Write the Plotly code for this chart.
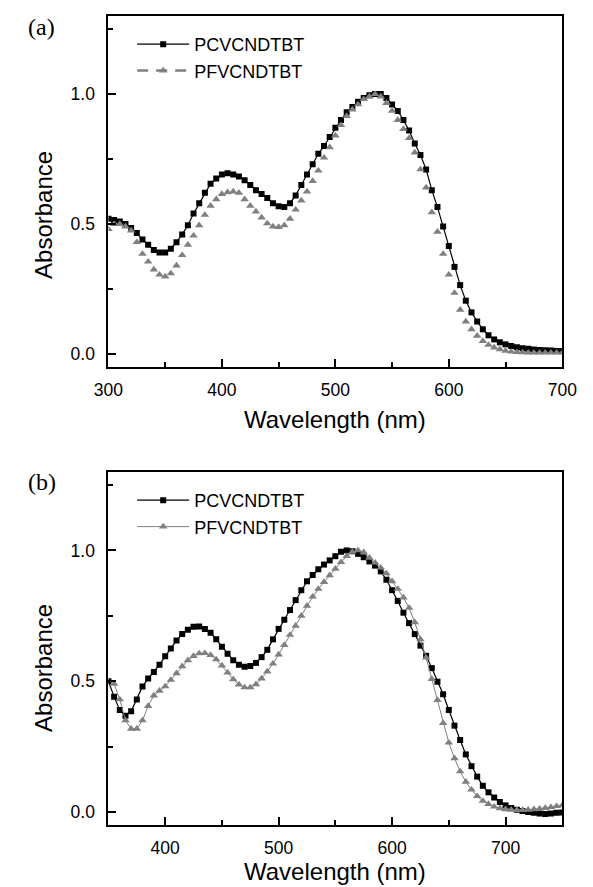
import plotly.graph_objects as go

# ---------------- Panel (a) data ----------------
wl_a = list(range(300, 705, 5))
pcv_a = [0.52, 0.515, 0.51, 0.50, 0.485, 0.465, 0.44, 0.42, 0.40, 0.39,
         0.39, 0.405, 0.43, 0.46, 0.495, 0.54, 0.58, 0.62, 0.655, 0.675,
         0.69, 0.695, 0.69, 0.683, 0.668, 0.65, 0.63, 0.615, 0.60, 0.58,
         0.568, 0.565, 0.58, 0.61, 0.65, 0.69, 0.73, 0.77, 0.80, 0.835,
         0.87, 0.90, 0.93, 0.95, 0.97, 0.985, 0.995, 1.00, 1.00, 0.985,
         0.96, 0.935, 0.90, 0.86, 0.81, 0.765, 0.71, 0.63, 0.565, 0.49,
         0.415, 0.335, 0.265, 0.205, 0.16, 0.125, 0.095, 0.072, 0.056, 0.045,
         0.037, 0.031, 0.026, 0.022, 0.02, 0.017, 0.015, 0.014, 0.013, 0.012,
         0.012]
pfv_a = [0.48, 0.50, 0.50, 0.49, 0.475, 0.43, 0.385, 0.355, 0.325, 0.305,
         0.298, 0.31, 0.34, 0.38, 0.42, 0.455, 0.495, 0.535, 0.57, 0.595,
         0.615, 0.622, 0.625, 0.62, 0.595, 0.57, 0.548, 0.525, 0.502, 0.49,
         0.488, 0.495, 0.52, 0.555, 0.59, 0.625, 0.665, 0.705, 0.755, 0.795,
         0.84, 0.88, 0.915, 0.94, 0.96, 0.98, 0.99, 1.00, 0.99, 0.965,
         0.935, 0.90, 0.865, 0.83, 0.775, 0.71, 0.64, 0.545, 0.47, 0.385,
         0.305, 0.235, 0.17, 0.125, 0.095, 0.07, 0.05, 0.035, 0.025, 0.018,
         0.012, 0.009, 0.007, 0.006, 0.005, 0.005, 0.005, 0.005, 0.005, 0.005,
         0.005]

# ---------------- Panel (b) data ----------------
wl_b_pcv = list(range(350, 755, 5))
pcv_b = [0.50, 0.44, 0.39, 0.368, 0.385, 0.43, 0.48, 0.51, 0.535, 0.563,
         0.595, 0.625, 0.656, 0.68, 0.697, 0.708, 0.709, 0.70, 0.685, 0.66,
         0.632, 0.605, 0.58, 0.563, 0.555, 0.558, 0.57, 0.592, 0.62, 0.66,
         0.70, 0.735, 0.772, 0.81, 0.848, 0.882, 0.906, 0.928, 0.946, 0.962,
         0.978, 0.995, 1.0, 0.997, 0.987, 0.974, 0.958, 0.942, 0.92, 0.888,
         0.848, 0.807, 0.762, 0.722, 0.68, 0.636, 0.597, 0.55, 0.498, 0.45,
         0.39, 0.33, 0.275, 0.22, 0.175, 0.135, 0.10, 0.075, 0.055, 0.038,
         0.025, 0.015, 0.008, 0.004, 0.0, -0.003, -0.006, -0.008, -0.006, -0.003,
         -0.002]
wl_b_pfv = list(range(355, 755, 5))
pfv_b = [0.49, 0.43, 0.35, 0.318, 0.318, 0.35, 0.405, 0.445, 0.463, 0.48,
         0.505, 0.53, 0.557, 0.58, 0.596, 0.606, 0.607, 0.60, 0.583, 0.56,
         0.533, 0.507, 0.487, 0.476, 0.476, 0.488, 0.51, 0.537, 0.567, 0.602,
         0.638, 0.677, 0.712, 0.75, 0.788, 0.823, 0.853, 0.879, 0.905, 0.93,
         0.955, 0.978, 0.995, 1.0, 0.993, 0.972, 0.953, 0.934, 0.912, 0.882,
         0.853, 0.82, 0.78, 0.725, 0.66, 0.59, 0.508, 0.428, 0.34, 0.265,
         0.205, 0.155, 0.115, 0.085, 0.06, 0.042, 0.03, 0.02, 0.014, 0.01,
         0.008, 0.007, 0.007, 0.008, 0.01, 0.012, 0.015, 0.018, 0.022, 0.025]

name_pcv = "PCVCNDTBT"
name_pfv = "PFVCNDTBT"
GRAY = "#808080"
FONT = "Liberation Sans, Arial, sans-serif"
SERIF = "Liberation Serif, Times New Roman, serif"

fig = go.Figure()
# panel (a)
fig.add_trace(go.Scatter(x=wl_a, y=pcv_a, name=name_pcv, mode="lines+markers",
                         line=dict(color="black", width=1.2),
                         marker=dict(symbol="square", size=6, color="black"),
                         xaxis="x", yaxis="y", legend="legend"))
fig.add_trace(go.Scatter(x=wl_a, y=pfv_a, name=name_pfv, mode="markers",
                         marker=dict(symbol="triangle-up", size=7.5, color=GRAY),
                         xaxis="x", yaxis="y", legend="legend", showlegend=False))
# legend entry for the dashed gray series of panel (a)
fig.add_trace(go.Scatter(x=[None], y=[None], name=name_pfv, mode="lines+markers",
                         line=dict(color=GRAY, width=2.5, dash="11px,8px"),
                         marker=dict(symbol="triangle-up", size=7.5, color=GRAY),
                         xaxis="x", yaxis="y", legend="legend"))
# panel (b)
fig.add_trace(go.Scatter(x=wl_b_pcv, y=pcv_b, name=name_pcv, mode="lines+markers",
                         line=dict(color="black", width=1.2),
                         marker=dict(symbol="square", size=6, color="black"),
                         xaxis="x2", yaxis="y2", legend="legend2"))
fig.add_trace(go.Scatter(x=wl_b_pfv, y=pfv_b, name=name_pfv, mode="lines+markers",
                         line=dict(color=GRAY, width=1),
                         marker=dict(symbol="triangle-up", size=7.5, color=GRAY),
                         xaxis="x2", yaxis="y2", legend="legend2"))

W, H = 593, 887
OFF = 8  # page body margin
def px(v):
    return (v - OFF) / W
def py(v):
    return 1 - (v - OFF) / H

xdom = [px(98), px(576)]
ydom_a = [py(367), py(16)]
ydom_b = [py(825), py(472)]

def xax(rng, tick0, dom, anchor):
    return dict(domain=dom, range=rng, anchor=anchor, tick0=tick0, dtick=100,
                ticks="inside", ticklen=8, tickwidth=1.5, tickcolor="black",
                minor=dict(dtick=50, tick0=tick0, ticks="inside", ticklen=5,
                           tickwidth=1.5, tickcolor="black"),
                showline=True, linecolor="black", linewidth=2, mirror=True,
                showgrid=False, zeroline=False, ticklabelstandoff=6,
                tickfont=dict(family=FONT, size=17.5, color="black"))

def yax(dom, anchor):
    return dict(domain=dom, range=[-0.05, 1.3], anchor=anchor, tick0=0, dtick=0.5,
                tickformat=".1f",
                ticks="inside", ticklen=8, tickwidth=1.5, tickcolor="black",
                minor=dict(dtick=0.25, tick0=0, ticks="inside", ticklen=5,
                           tickwidth=1.5, tickcolor="black"),
                showline=True, linecolor="black", linewidth=2, mirror=True,
                showgrid=False, zeroline=False, ticklabelstandoff=8,
                tickfont=dict(family=FONT, size=17.5, color="black"))

legend_common = dict(bgcolor="rgba(0,0,0,0)", borderwidth=0, itemwidth=52,
                     font=dict(family=FONT, size=18, color="black"),
                     xanchor="left", yanchor="top", tracegroupgap=0,
                     itemclick=False)

def ann(text, x, y, font, angle=0):
    return dict(text=text, x=px(x), y=py(y), xref="paper", yref="paper",
                showarrow=False, xanchor="center", yanchor="middle",
                textangle=angle, font=font)

tfont = dict(family=FONT, size=24, color="black")
sfont = dict(family=SERIF, size=24, color="black")

fig.update_layout(
    width=W, height=H,
    margin=dict(l=0, r=0, t=0, b=0),
    paper_bgcolor="white", plot_bgcolor="white",
    xaxis=xax([300, 700], 300, xdom, "y"),
    yaxis=yax(ydom_a, "x"),
    xaxis2=xax([350, 750], 400, xdom, "y2"),
    yaxis2=yax(ydom_b, "x2"),
    legend=dict(x=px(123), y=py(26), **legend_common),
    legend2=dict(x=px(123), y=py(482), **legend_common),
    annotations=[
        ann("(a)", 28, 27, sfont),
        ann("(b)", 28, 482, sfont),
        ann("Wavelength (nm)", 337, 420, tfont),
        ann("Wavelength (nm)", 337, 871, tfont),
        ann("Absorbance", 29, 215, tfont, -90),
        ann("Absorbance", 29, 668, tfont, -90),
    ],
)

fig.write_html("out.html")
